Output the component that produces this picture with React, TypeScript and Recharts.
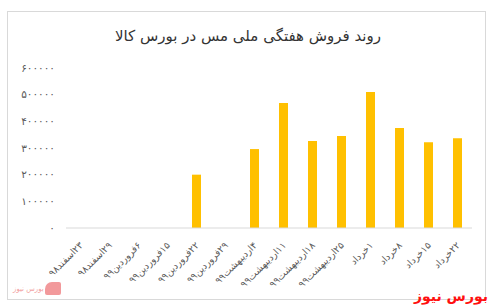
import { Bar, BarChart, XAxis, YAxis } from "recharts"

const categories = [
  "۲۳اسفند۹۸",
  "۲۹اسفند۹۸",
  "۶فروردین۹۹",
  "۱۵فروردین۹۹",
  "۲۲فروردین۹۹",
  "۲۹فروردین۹۹",
  "۴اردیبهشت۹۹",
  "۱۱اردیبهشت۹۹",
  "۱۸اردیبهشت۹۹",
  "۲۵اردیبهشت۹۹",
  "۱خرداد",
  "۸خرداد",
  "۱۵خرداد",
  "۲۲خرداد",
]

const sales = [0, 0, 0, 0, 200000, 0, 296000, 469000, 326000, 345000, 510000, 375000, 322000, 337000]

const yTicks = [0, 100000, 200000, 300000, 400000, 500000, 600000]

const data = categories.map((name, i) => ({ name, sales: sales[i] }))

const faDigits = "۰۱۲۳۴۵۶۷۸۹"
const toFa = (v: number) => String(v).replace(/\d/g, (d) => faDigits[Number(d)])

const XTick = ({ x, y, payload }: any) => (
  <text
    x={x + 3}
    y={y + 10}
    transform={`rotate(-45, ${x + 3}, ${y + 10})`}
    direction="rtl"
    textAnchor="start"
    fontSize={9.5}
    fill="#595959"
  >
    {payload.value}
  </text>
)

export default function App() {
  return (
    <div
      style={{
        position: "fixed",
        left: 0,
        top: 0,
        width: 492,
        height: 308,
        background: "#fff",
        fontFamily: "'DejaVu Sans', sans-serif",
        overflow: "hidden",
      }}
    >
      <div
        style={{
          position: "absolute",
          left: 7,
          top: 11,
          width: 477,
          height: 287,
          border: "1px solid #d9d9d9",
        }}
      />
      <div
        style={{
          position: "absolute",
          top: 27,
          left: 0,
          width: 496,
          textAlign: "center",
          fontSize: 15,
          color: "#333",
          direction: "rtl",
        }}
      >
        روند فروش هفتگی ملی مس در بورس کالا
      </div>
      <div style={{ position: "absolute", left: 0, top: 0 }}>
        <BarChart width={492} height={308} data={data} margin={{ top: 68, right: 20, bottom: 0, left: 0 }}>
          <XAxis
            dataKey="name"
            interval={0}
            height={80}
            tickLine={false}
            axisLine={{ stroke: "#d9d9d9" }}
            tick={<XTick />}
          />
          <YAxis
            width={66}
            domain={[0, 600000]}
            ticks={yTicks}
            axisLine={false}
            tickLine={false}
            tickMargin={5}
            tick={{ fontSize: 10.5, fill: "#595959", letterSpacing: 0.8 }}
            tickFormatter={toFa}
          />
          <Bar dataKey="sales" fill="#FFC000" barSize={9} isAnimationActive={false} />
        </BarChart>
      </div>
      <div
        style={{
          position: "absolute",
          left: 13,
          top: 281,
          height: 15,
          display: "flex",
          alignItems: "center",
          gap: 1,
          opacity: 0.45,
        }}
      >
        <span style={{ fontSize: 7, color: "#e31e24", direction: "rtl" }}>بورس نیوز</span>
        <span style={{ width: 16, height: 13, background: "#e31e24", borderRadius: "7px 2px 2px 2px" }} />
      </div>
      <div
        style={{
          position: "absolute",
          right: 4,
          top: 287,
          fontSize: 14,
          fontWeight: "bold",
          color: "#ff1010",
          direction: "rtl",
          lineHeight: "18px",
        }}
      >
        بورس نیوز
      </div>
    </div>
  )
}
